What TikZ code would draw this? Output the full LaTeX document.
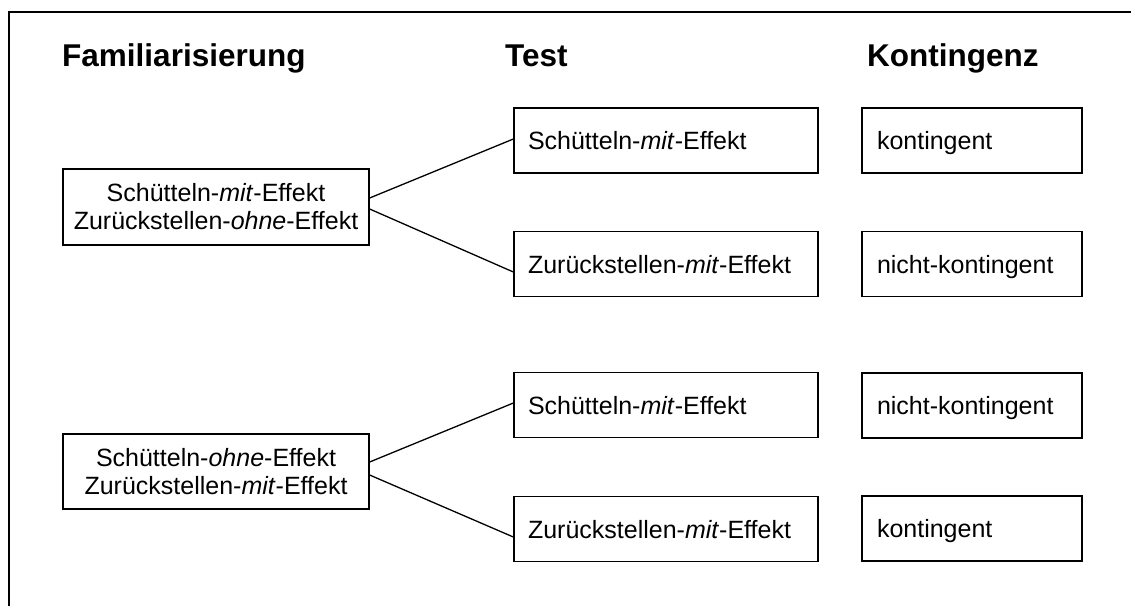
\documentclass[tikz,border=0pt]{standalone}
\usepackage{fontspec}
\setmainfont{Liberation Sans}
\begin{document}
\begin{tikzpicture}[x=1pt,y=-1pt,
  head/.style={font=\fontsize{31.5}{36}\selectfont\bfseries, inner sep=0pt, anchor=base west},
  famb/.style={draw, line width=1.3pt, minimum width=306pt, minimum height=76pt, inner sep=0pt, align=center, font=\fontsize{25}{28}\selectfont},
  testb/.style={draw, line width=1.3pt, minimum width=304pt, minimum height=65pt, inner xsep=14pt, inner ysep=0pt, text width=276pt, align=left, text height=18pt, text depth=0pt, font=\fontsize{25}{28}\selectfont},
  kontb/.style={draw, line width=1.3pt, minimum width=220pt, minimum height=65pt, inner xsep=15pt, inner ysep=0pt, text width=190pt, align=left, text height=18pt, text depth=0pt, font=\fontsize{25}{28}\selectfont},
  conn/.style={line width=1.3pt}]
\useasboundingbox (0,0) rectangle (1131,606);
% frame (open at right and bottom edges of the picture)
\coordinate (fa) at (9,606);
\coordinate (fb) at (9,12);
\coordinate (fc) at (1131,12);
\draw[line width=2pt] (fa) -- (fb) -- (fc);
% headings
\node[head] (h1) at (62,66) {Familiarisierung};
\node[head] (h2) at (505,66) {Test};
\node[head] (h3) at (867,66) {Kontingenz};
% familiarisation boxes
\node[famb] (f1) at (216,207) {Schütteln-\textit{mit}-Effekt\\Zurückstellen-\textit{ohne}-Effekt};
\node[famb, minimum height=75pt] (f2) at (216,471.5) {Schütteln-\textit{ohne}-Effekt\\Zurückstellen-\textit{mit}-Effekt};
% test boxes
\node[testb] (t1) at (666,140.5) {Schütteln-\textit{mit}-Effekt};
\node[testb] (t2) at (666,264) {Zurückstellen-\textit{mit}-Effekt};
\node[testb] (t3) at (666,405) {Schütteln-\textit{mit}-Effekt};
\node[testb] (t4) at (666,529) {Zurückstellen-\textit{mit}-Effekt};
% contingency boxes
\node[kontb] (k1) at (972,140.5) {kontingent};
\node[kontb] (k2) at (972,264) {nicht-kontingent};
\node[kontb] (k3) at (972,405.5) {nicht-kontingent};
\node[kontb] (k4) at (972,528.5) {kontingent};
% connectors
\draw[conn] ([yshift=9pt]f1.east) -- ([yshift=1.5pt]t1.west);
\draw[conn] ([yshift=-2pt]f1.east) -- ([yshift=-8pt]t2.west);
\draw[conn] ([yshift=9.5pt]f2.east) -- ([yshift=2pt]t3.west);
\draw[conn] ([yshift=-3.5pt]f2.east) -- ([yshift=-8pt]t4.west);
\end{tikzpicture}
\end{document}
